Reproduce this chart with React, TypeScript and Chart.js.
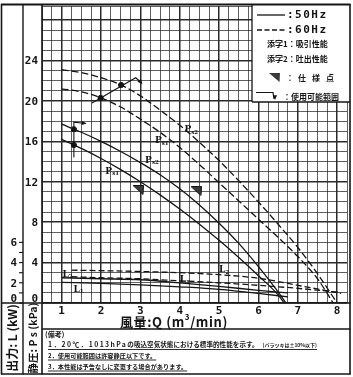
import React, { useEffect, useRef } from 'react';
import { Chart, registerables } from 'chart.js';
Chart.register(...registerables);

// ---- data (Q: m3/min, Ps: kPa, L: kW) ----
// 60Hz discharge static pressure (Ps2, dashed)
const ps2_60Q = [1, 1.5, 2, 2.5, 3, 3.5, 4, 4.5, 5, 5.5, 6, 6.5, 7, 7.5, 8];
const ps2_60P = [23.1, 22.8, 22.3, 21.6, 20.5, 19.1, 17.6, 15.9, 14.1, 12.1, 10.0, 7.8, 5.5, 2.9, 0];
// 60Hz suction static pressure (Ps1, dashed)
const ps1_60Q = [1, 1.5, 2, 2.5, 3, 3.5, 4, 4.5, 5, 5.5, 6, 6.5, 7, 7.5, 7.9];
const ps1_60P = [21.2, 20.9, 20.3, 19.4, 18.2, 16.9, 15.4, 13.7, 11.9, 10.1, 8.3, 6.5, 4.6, 2.4, 0];
// 50Hz discharge static pressure (Ps2, solid)
const ps2_50Q = [1, 1.5, 2, 2.5, 3, 3.5, 4, 4.5, 5, 5.5, 6, 6.5, 6.7];
const ps2_50P = [17.7, 16.9, 16.0, 15.0, 13.9, 12.7, 11.3, 9.7, 7.9, 5.9, 3.6, 1.1, 0];
// 50Hz suction static pressure (Ps1, solid)
const ps1_50Q = [1, 1.5, 2, 2.5, 3, 3.5, 4, 4.5, 5, 5.5, 6, 6.5, 6.65];
const ps1_50P = [16.2, 15.3, 14.3, 13.2, 12.0, 10.7, 9.3, 7.8, 6.2, 4.5, 2.7, 0.8, 0];
// Power L (kW)
const l2_60Q = [1.25, 2, 3, 4, 5, 6, 7, 8.1];
const l2_60L = [3.25, 3.2, 3.12, 3.0, 2.8, 2.45, 1.75, 0.95];
const l1_60Q = [1.25, 2, 3, 4, 5, 6, 7, 8.1];
const l1_60L = [2.6, 2.5, 2.4, 2.2, 2.0, 1.75, 1.45, 1.05];
const l2_50Q = [1, 2, 3, 4, 5, 6, 6.75];
const l2_50L = [2.5, 2.4, 2.3, 2.0, 1.65, 1.25, 1.0];
const l1_50Q = [1, 2, 3, 4, 5, 6, 6.75];
const l1_50L = [2.05, 1.95, 1.8, 1.6, 1.35, 0.95, 0.6];
// usable range brackets and their marks
const range50Q = [1.31, 1.31, 1.56];
const range50P = [14.4, 17.9, 17.8];
const range60Q = [1.77, 2.88, 3.0];
const range60P = [19.8, 22.3, 21.9];
const mark50Q = [1.31, 1.31];
const mark50P = [17.2, 15.64];
const mark60Q = [1.99, 2.51];
const mark60P = [20.3, 21.58];
// specification points
const specQ = [2.95, 4.42];
const specP = [11.2, 11.1];

// ticks
const xTickLabels = [1, 2, 3, 4, 5, 6, 7, 8];
const psTickLabels = [0, 4, 8, 12, 16, 20, 24];
const lTickLabels = [0, 2, 4, 6];
const lTickMarks = [0, 1, 2, 3, 4, 5, 6];

// curve labels
const curveLabels = [
  { main: 'P', sub: 's2', q: 4.12, p: 16.9 },
  { main: 'P', sub: 's1', q: 3.37, p: 15.8 },
  { main: 'P', sub: 's2', q: 3.12, p: 13.9 },
  { main: 'P', sub: 's1', q: 2.11, p: 12.8 },
  { main: 'L', sub: '2', q: 1.02, p: 2.6 },
  { main: 'L', sub: '1', q: 1.3, p: 1.1 },
  { main: 'L', sub: '2', q: 5.0, p: 3.05 },
  { main: 'L', sub: '1', q: 4.0, p: 2.05 },
];

const W = 353;
const H = 377;
const MONO = '"DejaVu Sans Mono", monospace';
const JP = '"Noto Sans CJK JP", sans-serif';
const SERIF = '"DejaVu Serif", serif';
const INK = '#151515';

function makeSpecTriangle(): HTMLCanvasElement {
  const c = document.createElement('canvas');
  c.width = 11;
  c.height = 10;
  const g = c.getContext('2d')!;
  g.fillStyle = '#3a3a3a';
  g.beginPath();
  g.moveTo(0, 0.5);
  g.lineTo(10.5, 0.5);
  g.lineTo(10, 9.5);
  g.closePath();
  g.fill();
  g.strokeStyle = '#111';
  g.lineWidth = 1;
  g.stroke();
  return c;
}

function tri(ctx: CanvasRenderingContext2D, x: number, y: number, angle: number, size: number) {
  ctx.save();
  ctx.translate(x, y);
  ctx.rotate(angle);
  ctx.beginPath();
  ctx.moveTo(size, 0);
  ctx.lineTo(-size * 0.6, -size * 0.7);
  ctx.lineTo(-size * 0.6, size * 0.7);
  ctx.closePath();
  ctx.fill();
  ctx.restore();
}

function hline(ctx: CanvasRenderingContext2D, x1: number, x2: number, y: number, lw: number) {
  ctx.lineWidth = lw;
  ctx.beginPath();
  ctx.moveTo(x1, y);
  ctx.lineTo(x2, y);
  ctx.stroke();
}
function vline(ctx: CanvasRenderingContext2D, x: number, y1: number, y2: number, lw: number) {
  ctx.lineWidth = lw;
  ctx.beginPath();
  ctx.moveTo(x, y1);
  ctx.lineTo(x, y2);
  ctx.stroke();
}

const decor = {
  id: 'decor',
  beforeDraw(chart: any) {
    const ctx = chart.ctx as CanvasRenderingContext2D;
    ctx.save();
    ctx.fillStyle = '#fff';
    ctx.fillRect(0, 0, W, H);
    ctx.restore();
  },
  afterDraw(chart: any) {
    const ctx = chart.ctx as CanvasRenderingContext2D;
    const xs = chart.scales.x;
    const ys = chart.scales.y;
    const yl = chart.scales.yL;
    const a = chart.chartArea;
    ctx.save();
    ctx.strokeStyle = INK;
    ctx.fillStyle = INK;

    // range flags (triangles at the end of the brackets)
    {
      const ex = xs.getPixelForValue(range50Q[2]);
      const ey = ys.getPixelForValue(range50P[2]);
      tri(ctx, ex, ey, 0.1, 3);
      const fx = xs.getPixelForValue(range60Q[2]);
      const fy = ys.getPixelForValue(range60P[2]);
      tri(ctx, fx, fy, 0.9, 3.2);
    }

    // curve labels
    ctx.textAlign = 'left';
    ctx.textBaseline = 'alphabetic';
    curveLabels.forEach((l) => {
      const x = xs.getPixelForValue(l.q);
      const y = ys.getPixelForValue(l.p);
      ctx.font = `bold 9px ${SERIF}`;
      ctx.fillText(l.main, x, y);
      const w = ctx.measureText(l.main).width;
      ctx.font = `bold 5.5px ${SERIF}`;
      ctx.fillText(l.sub, x + w, y + 1.5);
    });

    // legend box
    ctx.fillStyle = '#fff';
    ctx.fillRect(252, 4, 98, 98);
    ctx.fillStyle = INK;
    hline(ctx, 252, 350, 102, 1.3);
    vline(ctx, 252, 4, 102, 1.3);
    ctx.lineWidth = 1.3;
    ctx.beginPath();
    ctx.moveTo(257, 15);
    ctx.lineTo(285, 15);
    ctx.stroke();
    ctx.setLineDash([5, 2.5]);
    ctx.beginPath();
    ctx.moveTo(257, 30);
    ctx.lineTo(285, 30);
    ctx.stroke();
    ctx.setLineDash([]);
    ctx.font = `bold 11px ${MONO}`;
    ctx.textBaseline = 'middle';
    (ctx as any).letterSpacing = '1.5px';
    ctx.fillText(':50Hz', 287, 15.5);
    ctx.fillText(':60Hz', 287, 30.5);
    (ctx as any).letterSpacing = '0px';
    ctx.font = `bold 8px ${JP}`;
    ctx.fillText('添字1：吸引性能', 267, 43.5);
    ctx.fillText('添字2：吐出性能', 267, 58.5);
    ctx.fillStyle = '#3a3a3a';
    ctx.beginPath();
    ctx.moveTo(269, 73);
    ctx.lineTo(280, 73);
    ctx.lineTo(279.5, 82);
    ctx.closePath();
    ctx.fill();
    ctx.fillStyle = INK;
    ctx.font = `bold 8px ${JP}`;
    ctx.fillText('：', 286, 77.5);
    ctx.fillText('仕', 298, 77.5);
    ctx.fillText('様', 312, 77.5);
    ctx.fillText('点', 326, 77.5);
    ctx.lineWidth = 1.2;
    ctx.beginPath();
    ctx.moveTo(256, 92.5);
    ctx.lineTo(273, 92.5);
    ctx.lineTo(274, 99);
    ctx.stroke();
    tri(ctx, 275, 97, Math.PI / 2, 3);
    ctx.fillText('：使用可能範囲', 283, 96.5);

    // frame lines
    ctx.strokeStyle = INK;
    hline(ctx, 1, 350.5, 4.5, 2);
    hline(ctx, 1, 350.5, a.bottom, 1.6);
    hline(ctx, 1, 350.5, 374, 1.6);
    hline(ctx, a.left, 350.5, 329, 1.3);
    vline(ctx, 1.5, 4, 374.5, 1.6);
    vline(ctx, 23, 4, 374.5, 1.4);
    vline(ctx, a.left, 4, 374.5, 1.6);
    vline(ctx, 350, 4, 374.5, 1.6);

    // pressure tick labels
    ctx.fillStyle = INK;
    ctx.font = `bold 11px ${MONO}`;
    ctx.textAlign = 'right';
    psTickLabels.forEach((v) => {
      const py = ys.getPixelForValue(v);
      if (v === 0) {
        ctx.textBaseline = 'alphabetic';
        ctx.fillText(String(v), a.left - 4, py - 1);
      } else {
        ctx.textBaseline = 'middle';
        ctx.fillText(String(v), a.left - 4, py + 1);
      }
    });
    // power tick marks and labels
    lTickMarks.forEach((v) => {
      const py = yl.getPixelForValue(v);
      hline(ctx, 19, 23, py, 1.1);
    });
    lTickLabels.forEach((v) => {
      const py = yl.getPixelForValue(v);
      if (v === 0) {
        ctx.textBaseline = 'alphabetic';
        ctx.fillText(String(v), 17, py - 1);
      } else {
        ctx.textBaseline = 'middle';
        ctx.fillText(String(v), 17, py + 1);
      }
    });

    // x axis title
    ctx.textAlign = 'left';
    ctx.textBaseline = 'alphabetic';
    ctx.font = `bold 13px ${JP}`;
    let tx = 120;
    const ty = 327;
    const part1 = '風量:Q (m';
    (ctx as any).letterSpacing = '0.6px';
    ctx.fillText(part1, tx, ty);
    tx += ctx.measureText(part1).width;
    ctx.font = `bold 8px ${JP}`;
    ctx.fillText('3', tx, ty - 7);
    tx += ctx.measureText('3').width;
    ctx.font = `bold 13px ${JP}`;
    ctx.fillText('/min)', tx, ty);
    (ctx as any).letterSpacing = '0px';

    // vertical axis titles
    ctx.save();
    ctx.translate(12.5, 338);
    ctx.rotate(-Math.PI / 2);
    ctx.textAlign = 'center';
    ctx.textBaseline = 'middle';
    ctx.font = `bold 12px ${JP}`;
    ctx.fillText('出力: L (kW)', 0, 0);
    ctx.restore();
    ctx.save();
    ctx.translate(33, 338);
    ctx.rotate(-Math.PI / 2);
    ctx.textAlign = 'center';
    ctx.textBaseline = 'middle';
    ctx.font = `bold 10.5px ${JP}`;
    ctx.fillText('静圧: P s (kPa)', 0, 0);
    ctx.restore();

    // notes
    ctx.textAlign = 'left';
    ctx.textBaseline = 'middle';
    ctx.font = `bold 7px ${JP}`;
    ctx.fillText('(備考)', 45, 334);
    const x0 = 48;
    ctx.font = `bold 6.8px ${JP}`;
    (ctx as any).letterSpacing = '1.4px';
    const n1a = '1．20℃．1013hPa';
    ctx.fillText(n1a, x0, 344.5);
    let nx = x0 + ctx.measureText(n1a).width;
    (ctx as any).letterSpacing = '0px';
    ctx.font = `bold 6.6px ${JP}`;
    const n1b = 'の吸込空気状態における標準的性能を示す。';
    ctx.fillText(n1b, nx, 344.5);
    nx += ctx.measureText(n1b).width + 4;
    ctx.font = `bold 5px ${JP}`;
    const n1c = '(バラツキは±10%以下)';
    ctx.fillText(n1c, nx, 345);
    nx += ctx.measureText(n1c).width;
    hline(ctx, x0, nx, 349.5, 0.9);
    ctx.font = `bold 6.2px ${JP}`;
    const n2 = '2．使用可能範囲は許容静圧以下です。';
    ctx.fillText(n2, x0, 355.5);
    hline(ctx, x0, x0 + ctx.measureText(n2).width, 360, 0.9);
    const n3 = '3．本性能は予告なしに変更する場合があります。';
    ctx.fillText(n3, x0, 366.5);
    hline(ctx, x0, x0 + ctx.measureText(n3).width, 371, 0.9);

    ctx.restore();
  },
};

export default function App() {
  const ref = useRef<HTMLCanvasElement>(null);
  useEffect(() => {
    const canvas = ref.current!;
    const pts = (q: number[], v: number[]) => q.map((x, i) => ({ x, y: v[i] }));
    const curve = (label: string, q: number[], v: number[], dash: number[], yAxisID = 'y') => ({
      type: 'line' as const,
      label,
      data: pts(q, v),
      borderColor: INK,
      borderWidth: 1.3,
      borderDash: dash,
      pointRadius: 0,
      cubicInterpolationMode: 'monotone' as const,
      fill: false,
      yAxisID,
    });
    const D60 = [7, 3];
    const spec = makeSpecTriangle();
    const chart = new Chart(canvas, {
      type: 'line',
      data: {
        datasets: [
          curve('Ps2 60Hz', ps2_60Q, ps2_60P, D60),
          curve('Ps1 60Hz', ps1_60Q, ps1_60P, D60),
          curve('Ps2 50Hz', ps2_50Q, ps2_50P, []),
          curve('Ps1 50Hz', ps1_50Q, ps1_50P, []),
          curve('L2 60Hz', l2_60Q, l2_60L, [6, 3], 'yL'),
          curve('L1 60Hz', l1_60Q, l1_60L, [6, 3], 'yL'),
          curve('L2 50Hz', l2_50Q, l2_50L, [], 'yL'),
          curve('L1 50Hz', l1_50Q, l1_50L, [], 'yL'),
          {
            type: 'line' as const,
            label: 'range 50Hz',
            data: pts(range50Q, range50P),
            borderColor: INK,
            borderWidth: 1.1,
            pointRadius: 0,
            tension: 0,
          },
          {
            type: 'line' as const,
            label: 'range 60Hz',
            data: pts(range60Q, range60P),
            borderColor: INK,
            borderWidth: 1.1,
            pointRadius: 0,
            tension: 0,
          },
          {
            type: 'scatter' as const,
            label: 'marks 50Hz',
            data: pts(mark50Q, mark50P),
            backgroundColor: INK,
            borderColor: INK,
            pointRadius: 2.6,
          },
          {
            type: 'scatter' as const,
            label: 'marks 60Hz',
            data: pts(mark60Q, mark60P),
            backgroundColor: INK,
            borderColor: INK,
            pointRadius: 2.6,
          },
          {
            type: 'scatter' as const,
            label: 'spec',
            data: pts(specQ, specP),
            pointStyle: spec as any,
            pointRadius: 5,
          },
        ] as any,
      },
      options: {
        responsive: false,
        animation: false,
        devicePixelRatio: 1,
        layout: { padding: { left: 0, right: 3, top: 4, bottom: 0 } },
        plugins: { legend: { display: false }, tooltip: { enabled: false } },
        elements: { line: { tension: 0.4 } },
        scales: {
          x: {
            type: 'linear',
            min: 0.5,
            max: 8.25,
            afterFit: (s: any) => {
              s.height = 74;
            },
            ticks: {
              stepSize: 0.25,
              autoSkip: false,
              maxRotation: 0,
              padding: 2,
              color: INK,
              font: { family: MONO, size: 11, weight: 'bold' },
              callback: (v: any) => (xTickLabels.includes(Number(v)) ? String(v) : ''),
            },
            grid: {
              color: '#2a2a2a',
              lineWidth: (c: any) => (Number.isInteger(c.tick?.value) ? 1.5 : 0.75),
              drawTicks: false,
            },
            border: { display: false },
          },
          y: {
            type: 'linear',
            position: 'left',
            min: 0,
            max: 29.4,
            weight: 0,
            afterFit: (s: any) => {
              s.width = 19;
            },
            ticks: { display: false, stepSize: 1 },
            grid: {
              color: '#2a2a2a',
              lineWidth: (c: any) => (c.tick && c.tick.value % 4 === 0 ? 1.5 : 0.75),
              drawTicks: false,
            },
            border: { display: false },
          },
          yL: {
            type: 'linear',
            position: 'left',
            min: 0,
            max: 29.4,
            weight: 1,
            afterFit: (s: any) => {
              s.width = 23;
            },
            ticks: { display: false, stepSize: 1 },
            grid: { drawOnChartArea: false, drawTicks: false },
            border: { display: false },
          },
        },
      } as any,
      plugins: [decor],
    });
    return () => chart.destroy();
  }, []);
  return (
    <div style={{ position: 'fixed', left: 0, top: 0, width: W, height: H, background: '#fff' }}>
      <canvas ref={ref} width={W} height={H} style={{ display: 'block', width: W, height: H }} />
    </div>
  );
}
